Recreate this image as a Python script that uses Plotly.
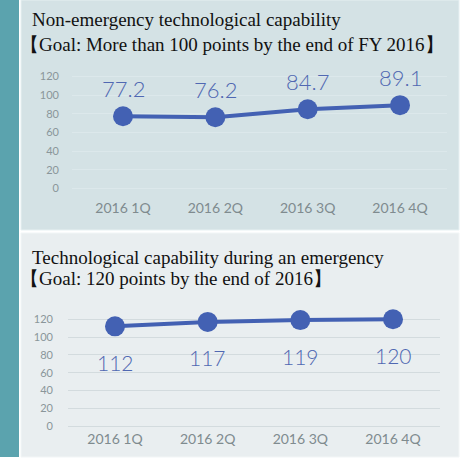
import plotly.graph_objects as go

W = H = 461

quarters = ["2016 1Q", "2016 2Q", "2016 3Q", "2016 4Q"]
normal_values = [77.2, 76.2, 84.7, 89.1]
normal_labels = ["77.2", "76.2", "84.7", "89.1"]
emergency_values = [112, 117, 119, 120]
emergency_labels = ["112", "117", "119", "120"]
y_ticks = [0, 20, 40, 60, 80, 100, 120]

title_top_1 = "Non-emergency technological capability"
title_top_2 = "【Goal: More than 100 points by the end of FY 2016】"
title_bot_1 = "Technological capability during an emergency"
title_bot_2 = "【Goal: 120 points by the end of 2016】"

BLUE = "#4361b3"
LABEL_BLUE = "#5068b2"
TICK_GREY = "#8a969a"


def px(x):
    return x / W


def py(y):
    return 1 - y / H


fig = go.Figure()

fig.add_trace(go.Scatter(
    x=quarters, y=normal_values, mode="lines+markers",
    line=dict(color=BLUE, width=4),
    marker=dict(color=BLUE, size=20),
    xaxis="x", yaxis="y", cliponaxis=False, showlegend=False, hoverinfo="skip",
))
fig.add_trace(go.Scatter(
    x=quarters, y=emergency_values, mode="lines+markers",
    line=dict(color=BLUE, width=4),
    marker=dict(color=BLUE, size=20),
    xaxis="x2", yaxis="y2", cliponaxis=False, showlegend=False, hoverinfo="skip",
))

shapes = [
    dict(type="rect", xref="paper", yref="paper", x0=px(0), x1=px(19), y0=py(461), y1=py(0),
         fillcolor="#5ba3ae", line_width=0, layer="below"),
    dict(type="rect", xref="paper", yref="paper", x0=px(21), x1=px(459), y0=py(232), y1=py(0),
         fillcolor="#d4e2e5", line=dict(color="#e6f0f2", width=1), layer="below"),
    dict(type="rect", xref="paper", yref="paper", x0=px(21), x1=px(459), y0=py(461), y1=py(235),
         fillcolor="#e9eef0", line=dict(color="#f2f6f7", width=1), layer="below"),
]

annotations = []
for txt, x, y in [(title_top_1, 30, 20), (title_top_2, 18, 45), (title_bot_1, 30, 260), (title_bot_2, 18, 281)]:
    annotations.append(dict(
        text=txt, xref="paper", yref="paper", x=px(x), y=py(y), xanchor="left", yanchor="middle",
        showarrow=False, font=dict(family="Liberation Serif", size=19, color="#111111"),
    ))

for q, v, t in zip(quarters, normal_values, normal_labels):
    annotations.append(dict(
        text=t, x=q, y=v, xref="x", yref="y", showarrow=False, yshift=28,
        xanchor="center", yanchor="middle",
        font=dict(family="Lato", size=22, color=LABEL_BLUE, weight=300),
    ))
for q, v, t in zip(quarters, emergency_values, emergency_labels):
    annotations.append(dict(
        text=t, x=q, y=v, xref="x2", yref="y2", showarrow=False, yshift=-36,
        xanchor="center", yanchor="middle",
        font=dict(family="Lato", size=21, color=LABEL_BLUE, weight=300),
    ))

# top axes
x_top = [123, 400]
x_dom = [72, 447]
ux = (x_top[1] - x_top[0]) / 3
xr_top = [(x_dom[0] - x_top[0]) / ux, (x_dom[1] - x_top[0]) / ux]
y0_top, y120_top = 190, 77
uy = (y0_top - y120_top) / 120
y_dom_top = [70, 195]
yr_top = [(y0_top - y_dom_top[1]) / uy, (y0_top - y_dom_top[0]) / uy]

# bottom axes
x_bot = [115, 393]
x_dom2 = [68, 440]
ux2 = (x_bot[1] - x_bot[0]) / 3
xr_bot = [(x_dom2[0] - x_bot[0]) / ux2, (x_dom2[1] - x_bot[0]) / ux2]
y0_bot, y120_bot = 430, 322
uy2 = (y0_bot - y120_bot) / 120
y_dom_bot = [308, 432]
yr_bot = [(y0_bot - y_dom_bot[1]) / uy2, (y0_bot - y_dom_bot[0]) / uy2]

xfont = dict(family="Lato", size=14, color="#7f8b8f")
yfont = dict(family="Lato", size=11, color=TICK_GREY)

fig.update_layout(
    width=W, height=H, margin=dict(l=0, r=0, t=0, b=0),
    paper_bgcolor="white", plot_bgcolor="rgba(0,0,0,0)",
    shapes=shapes, annotations=annotations, hovermode=False,
    xaxis=dict(domain=[px(x_dom[0]), px(x_dom[1])], anchor="y", type="category",
               range=xr_top, showgrid=False, zeroline=False, showline=False,
               tickfont=xfont, ticks="", ticklabelstandoff=5),
    yaxis=dict(domain=[py(y_dom_top[1]), py(y_dom_top[0])], anchor="x", range=yr_top,
               tickvals=y_ticks, showgrid=True, gridcolor="rgba(235,243,245,0.35)", gridwidth=1,
               zeroline=False, showline=False, tickfont=yfont, ticks="", ticklabelstandoff=12),
    xaxis2=dict(domain=[px(x_dom2[0]), px(x_dom2[1])], anchor="y2", type="category",
                range=xr_bot, showgrid=False, zeroline=False, showline=False,
                tickfont=xfont, ticks="", ticklabelstandoff=1),
    yaxis2=dict(domain=[py(y_dom_bot[1]), py(y_dom_bot[0])], anchor="x2", range=yr_bot,
                tickvals=y_ticks, showgrid=True, gridcolor="#d3dbde", gridwidth=1,
                zeroline=False, showline=False, tickfont=yfont, ticks="", ticklabelstandoff=14),
)

fig.write_html("out.html", config={"displayModeBar": False, "staticPlot": True},
               post_script="document.body.style.margin='0';document.body.style.overflow='hidden';")
